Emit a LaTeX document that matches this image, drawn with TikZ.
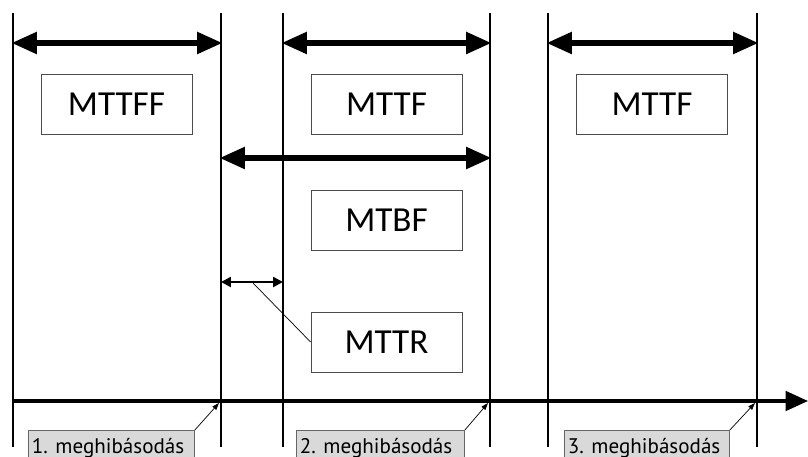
\documentclass[tikz,border=0pt]{standalone}
\usepackage{fontspec}
\setmainfont{Carlito}
\newfontfamily\labelfont{PT Sans}
\usetikzlibrary{arrows.meta}
\begin{document}
\begin{tikzpicture}[x=0.025cm,y=-0.025cm,
  bar/.style={line width=1.5pt},
  span/.style={line width=3.6pt,{Triangle[length=18pt,width=15pt]}-{Triangle[length=18pt,width=15pt]},shorten <=-1pt,shorten >=-1pt},
  smallspan/.style={line width=1.6pt,{Triangle[length=7pt,width=7pt]}-{Triangle[length=7pt,width=7pt]}},
  namebox/.style={draw=black!70,line width=0.6pt,minimum width=151*0.025cm,minimum height=60*0.025cm,inner sep=0pt,font=\fontsize{25}{30}\selectfont},
  eventbox/.style={draw=black!60,fill=black!15,line width=0.6pt,anchor=north west,minimum height=30*0.025cm,inner xsep=2.5pt,inner ysep=2pt,align=flush left,text depth=0pt,font=\labelfont\fontsize{15}{17}\selectfont},
  leader/.style={line width=0.5pt}]
\useasboundingbox (0,0) rectangle (808,457);
\clip (0,0) rectangle (808,457);
% vertical event lines
\foreach \n/\x in {a/13,b/221,c/283,d/490,e/548,f/757}{
  \coordinate (\n t) at (\x,13);
  \coordinate (\n b) at (\x,447);
  \coordinate (\n 1) at (\x,43);
  \coordinate (\n 2) at (\x,158);
  \coordinate (\n 3) at (\x,282);
  \draw[bar] (\n t) -- (\n b);
}
% time axis
\coordinate (axs) at (13,401);
\coordinate (axe) at (808,401);
\draw[line width=2.2pt,-{Triangle[length=16pt,width=14pt]}] (axs) -- (axe);
% interval arrows
\draw[span] (a1) -- (b1);
\draw[span] (c1) -- (d1);
\draw[span] (e1) -- (f1);
\draw[span] (b2) -- (d2);
\draw[smallspan] (b3) -- (c3);
% interval names
\node[namebox] (mttff) at (116.5,104) {MTTFF};
\node[namebox] (mttf1) at (386.5,104) {MTTF};
\node[namebox] (mttf2) at (652,104) {MTTF};
\node[namebox] (mtbf) at (386.5,220.5) {MTBF};
\node[namebox] (mttr) at (386.5,342) {MTTR};
\coordinate (rp) at (253,283);
\draw[leader] (mttr.west) -- (rp);
% failure events
\node[eventbox,text width=159*0.025cm] (ev1) at (28,430) {\mbox{1. meghibásodás}};
\node[eventbox,text width=161*0.025cm] (ev2) at (296,430) {\mbox{2. meghibásodás}};
\node[eventbox,text width=158*0.025cm] (ev3) at (564,430) {\mbox{3. meghibásodás}};
\coordinate (p1) at (219,403);
\coordinate (p2) at (488,403);
\coordinate (p3) at (755,403);
\draw[leader,-{Triangle[length=5pt,width=3.5pt]}] (ev1.north east) -- (p1);
\draw[leader,-{Triangle[length=5pt,width=3.5pt]}] (ev2.north east) -- (p2);
\draw[leader,-{Triangle[length=5pt,width=3.5pt]}] (ev3.north east) -- (p3);
\end{tikzpicture}
\end{document}
